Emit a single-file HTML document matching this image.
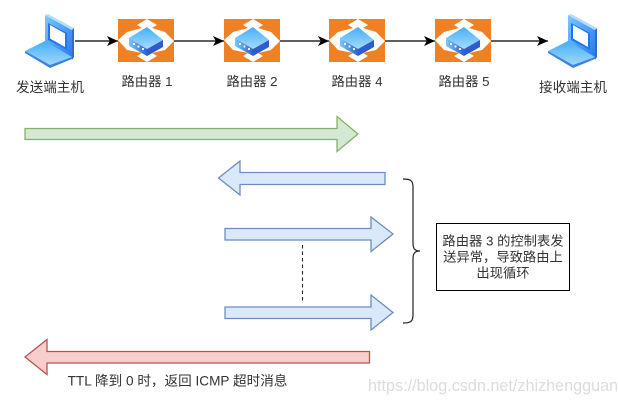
<!DOCTYPE html>
<html>
<head>
<meta charset="utf-8">
<style>
html,body{margin:0;padding:0;background:#fff;width:618px;height:403px;overflow:hidden}
svg{display:block;filter:blur(0.35px)}
text{font-family:"Liberation Sans","Noto Sans CJK SC",sans-serif;font-size:13.3px;fill:#333}
</style>
</head>
<body>
<svg width="618" height="403" viewBox="0 0 618 403" xmlns="http://www.w3.org/2000/svg">
<defs>
<linearGradient id="sc" x1="0" y1="0" x2="1" y2="1"><stop offset="0" stop-color="#7cc8fc"/><stop offset="1" stop-color="#2a78f0"/></linearGradient>
<linearGradient id="kb" x1="0" y1="0" x2="0" y2="1"><stop offset="0" stop-color="#45aef7"/><stop offset="1" stop-color="#a5dcfc"/></linearGradient>
<linearGradient id="fr" x1="0" y1="0" x2="1" y2="0"><stop offset="0" stop-color="#7cc6f8"/><stop offset="1" stop-color="#2a62d0"/></linearGradient>
<g id="laptop">
<polygon points="20,1 47,16 47,44 24,31 20,28" fill="url(#sc)"/>
<polygon points="20,1 23,0 49,14 47,16" fill="#b5defb"/>
<polygon points="47,16 49,14 49,43 47,46" fill="#3a66c8"/>
<polygon points="23,9 42,19 42,36 23,26" fill="#1e78f2"/>
<polygon points="25,11 40,19.5 40,33 25,24.5" fill="#fff"/>
<polygon points="0,37 20,27 47,43 25,53" fill="url(#kb)"/>
<polygon points="0,37 25,51 47,43 47,45 25,54 0,39" fill="#3f80e0"/>
</g>
<g id="router">
<rect x="0" y="0" width="56" height="43" fill="#f08024"/>
<polygon points="19,6 29,0 39,6 34,9 47,13 56,22 47,31 34,34 39,37 29,43 19,37 24,34 9,31 0,21 9,13 24,9" fill="#fff"/>
<polygon points="11,19 29,8 45,21 29,30" fill="url(#kb)"/>
<polygon points="11,19 29,30 29,37 11,27" fill="url(#fr)"/>
<polygon points="29,30 45,21 45,28 29,37" fill="#2f5cc8"/>
<circle cx="16" cy="25" r="1.1" fill="#fff"/><circle cx="20.5" cy="27.5" r="1.1" fill="#fff"/><circle cx="25" cy="30" r="1.1" fill="#fff"/>
</g>
<marker id="ah" markerUnits="userSpaceOnUse" markerWidth="12" markerHeight="12" refX="11" refY="6" orient="auto"><path d="M0,1 L11,6 L0,11 L2.8,6 Z" fill="#000"/></marker>
</defs>

<use href="#laptop" x="25" y="14"/>
<use href="#laptop" x="548" y="14"/>
<use href="#router" x="118" y="19"/>
<use href="#router" x="224" y="19"/>
<use href="#router" x="329" y="19"/>
<use href="#router" x="435" y="19"/>

<g stroke="#000" stroke-width="1.2" fill="none" marker-end="url(#ah)">
<line x1="75" y1="41" x2="118" y2="41"/>
<line x1="174" y1="41" x2="224" y2="41"/>
<line x1="280" y1="41" x2="329" y2="41"/>
<line x1="385" y1="41" x2="435" y2="41"/>
<line x1="491" y1="41" x2="548" y2="41"/>
</g>

<text x="50" y="92" text-anchor="middle" style="font-size:13.6px">发送端主机</text>
<text x="147" y="86" text-anchor="middle">路由器 1</text>
<text x="252" y="86" text-anchor="middle">路由器 2</text>
<text x="357" y="86" text-anchor="middle">路由器 4</text>
<text x="464" y="86" text-anchor="middle">路由器 5</text>
<text x="573" y="92" text-anchor="middle" style="font-size:13.6px">接收端主机</text>

<g stroke-width="1.3">
<polygon points="25,128.5 337,128.5 337,116.5 358,134 337,151.5 337,139.5 25,139.5" fill="#d5e8d4" stroke="#82b366"/>
<polygon points="385,172.5 240,172.5 240,161 218.5,178 240,195 240,184.5 385,184.5" fill="#dae8fc" stroke="#6c8ebf"/>
<polygon points="225,228.5 371,228.5 371,217 393,234 371,251.5 371,240 225,240" fill="#dae8fc" stroke="#6c8ebf"/>
<polygon points="225,307 371,307 371,295 393,312.5 371,330 371,318.5 225,318.5" fill="#dae8fc" stroke="#6c8ebf"/>
<polygon points="369.5,351.5 47,351.5 47,339.5 25,357 47,374.5 47,363 369.5,363" fill="#f8cecc" stroke="#b85450"/>
</g>

<line x1="302.5" y1="245" x2="302.5" y2="301" stroke="#222" stroke-width="1.1" stroke-dasharray="3.5 3"/>
<path d="M403,179 C410,179 413,180 413,187 L413,243 C413,249 415,251 420,251 C415,251 413,253 413,259 L413,315 C413,322 410,323 403,323" fill="none" stroke="#222" stroke-width="1.2"/>

<rect x="436.5" y="223.5" width="133" height="67" fill="#fff" stroke="#000"/>
<text x="503" y="245.5" text-anchor="middle">路由器 3 的控制表发</text>
<text x="503" y="261.5" text-anchor="middle">送异常，导致路由上</text>
<text x="503" y="277.5" text-anchor="middle">出现循环</text>

<text x="177.5" y="385.5" text-anchor="middle" style="font-size:13.6px">TTL 降到 0 时，返回 ICMP 超时消息</text>
<text x="368" y="391" style="font-size:16.2px;fill:#dcdcdc">https://blog.csdn.net/zhizhengguan</text>
</svg>
</body>
</html>
